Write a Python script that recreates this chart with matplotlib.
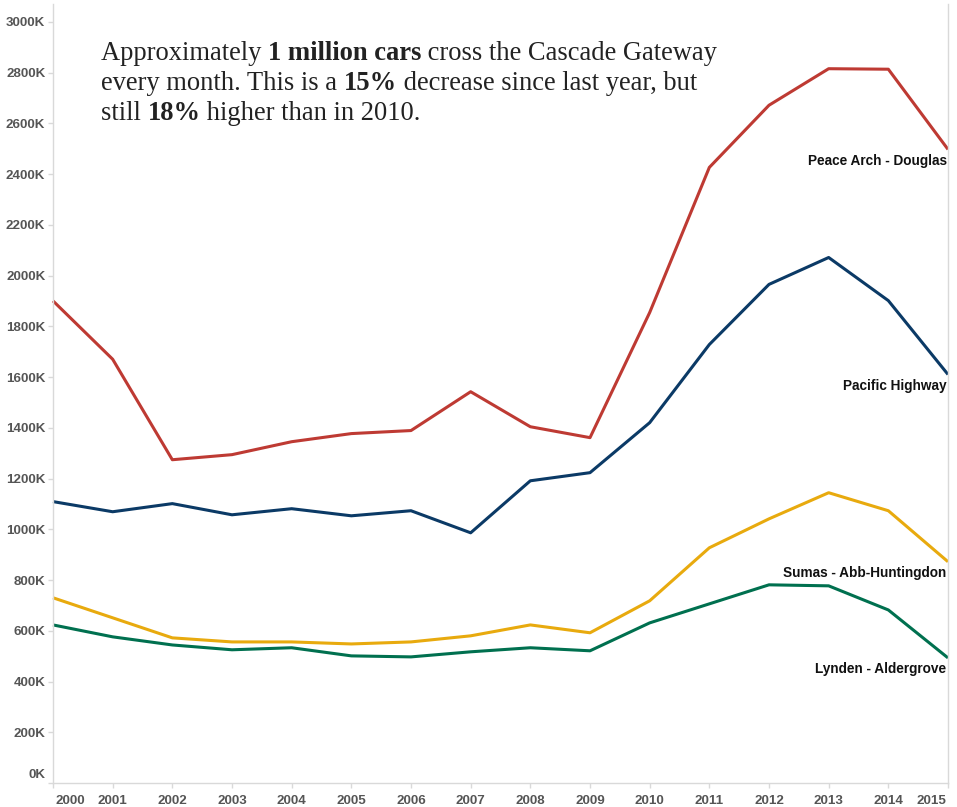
import matplotlib
matplotlib.use("Agg")
import matplotlib.pyplot as plt
import matplotlib.transforms as mtransforms

years = list(range(2000, 2016))
peace_arch = [1900, 1670, 1274, 1294, 1345, 1377, 1389, 1542, 1404, 1361, 1854, 2426, 2671, 2815, 2813, 2497]
pacific_hwy = [1109, 1069, 1101, 1057, 1081, 1053, 1073, 986, 1191, 1223, 1420, 1728, 1965, 2071, 1901, 1610]
sumas = [730, 651, 572, 556, 556, 548, 556, 580, 623, 592, 718, 927, 1041, 1144, 1073, 872]
lynden = [623, 576, 544, 525, 533, 501, 497, 517, 533, 521, 631, 706, 781, 777, 682, 493]
names = ["Peace Arch - Douglas", "Pacific Highway", "Sumas - Abb-Huntingdon", "Lynden - Aldergrove"]
colors = ["#be3a33", "#0b3a66", "#e8aa0e", "#00704f"]
yticks = list(range(0, 3001, 200))

W, H = 957, 807
fig = plt.figure(figsize=(W/100, H/100), dpi=100)
ax = fig.add_axes([53/W, (H-783)/H, (948-53)/W, (783-4)/H])

for vals, c, n in zip([peace_arch, pacific_hwy, sumas, lynden], colors, names):
    ax.plot(years, vals, color=c, lw=2.2, solid_capstyle="butt", clip_on=False)
    ax.annotate(n, xy=(years[-1], vals[-1]), xytext=(-1.0, -8), textcoords="offset points",
                ha="right", va="center", fontsize=9.8, fontweight="bold",
                family="Liberation Sans", color="#111111")

ax.set_xlim(2000, 2015)
ax.set_ylim(0, 3070)
ax.set_xticks(years)
ax.set_yticks(yticks)
ax.set_yticklabels([f"{v}K" for v in yticks])
ax.spines["top"].set_visible(False)
for s in ["left", "bottom", "right"]:
    ax.spines[s].set_color("#d9d9d9")
    ax.spines[s].set_linewidth(1)
ax.tick_params(axis="both", length=3.5, width=1, color="#d9d9d9", labelcolor="#555555", labelsize=9.6, pad=2)
ax.tick_params(axis="x", pad=5)
ax.tick_params(right=False)
for lab in ax.get_xticklabels() + ax.get_yticklabels():
    lab.set_fontfamily("Liberation Sans")
    lab.set_fontweight("bold")

xl = ax.get_xticklabels()
xl[0].set_ha("left")
xl[-1].set_ha("right")
xl[-1].set_transform(xl[-1].get_transform() + mtransforms.ScaledTranslation(-1.5/72, 0, fig.dpi_scale_trans))
xl[0].set_transform(xl[0].get_transform() + mtransforms.ScaledTranslation(2/72, 0, fig.dpi_scale_trans))
yl = ax.get_yticklabels()
yl[0].set_transform(yl[0].get_transform() + mtransforms.ScaledTranslation(0, 6.5/72, fig.dpi_scale_trans))

# headline with bold runs
lines = [
    [("Approximately ", "normal"), ("1 million cars", "bold"), (" cross the Cascade Gateway", "normal")],
    [("every month. This is a ", "normal"), ("15%", "bold"), (" decrease since last year, but", "normal")],
    [("still ", "normal"), ("18%", "bold"), (" higher than in 2010.", "normal")],
]
fig.canvas.draw()
r = fig.canvas.get_renderer()
x0 = 101 / W
y = 1 - 53 / H
for line in lines:
    x = x0
    for txt, wt in line:
        t = fig.text(x, y, txt, fontsize=19.1, fontweight=wt, family="Liberation Serif",
                     color="#222222", va="center", ha="left")
        bb = t.get_window_extent(renderer=r)
        x += bb.width / W
    y -= 30.5 / H

fig.savefig("out.png", dpi=100)
